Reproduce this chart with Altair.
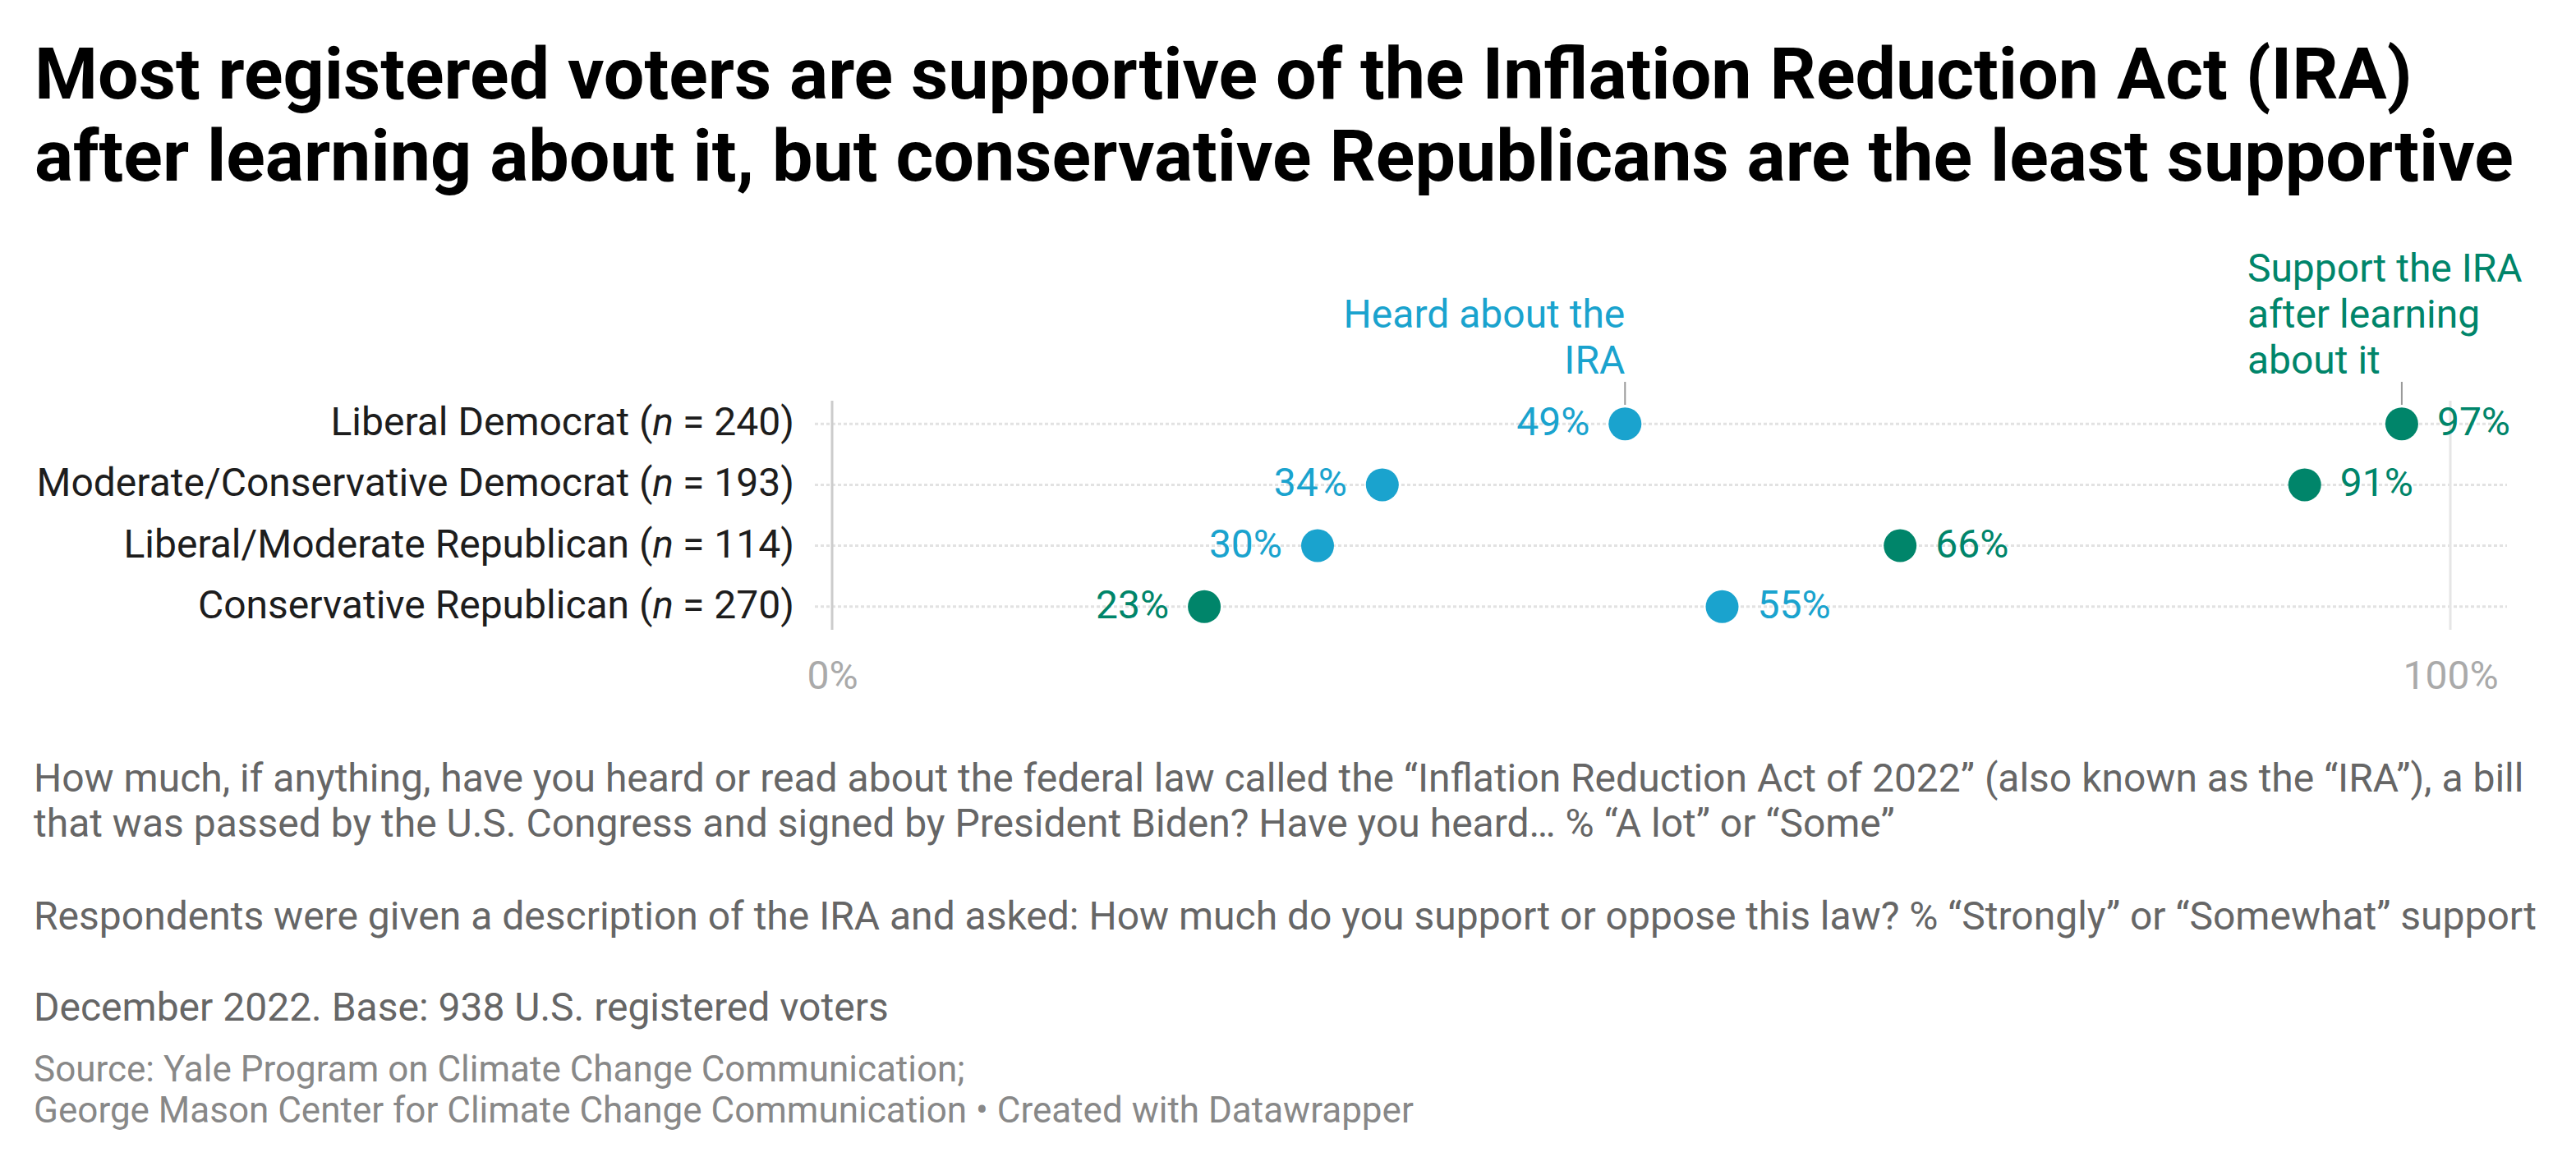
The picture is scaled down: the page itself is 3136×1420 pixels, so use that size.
import altair as alt
import pandas as pd

# ---------------- data ----------------
groups = [
    "Liberal Democrat",
    "Moderate/Conservative Democrat",
    "Liberal/Moderate Republican",
    "Conservative Republican",
]
sample_sizes = [240, 193, 114, 270]
heard = [49, 34, 30, 55]
support = [97, 91, 66, 23]
series_names = ["Heard about the IRA", "Support the IRA after learning about it"]
series_colors = ["#1aa3ce", "#00856a"]
x_ticks = [0, 100]

heard_label_lines = ["Heard about the", "IRA"]
support_label_lines = ["Support the IRA", "after learning", "about it"]

title_lines = [
    "Most registered voters are supportive of the Inflation Reduction Act (IRA)",
    "after learning about it, but conservative Republicans are the least supportive",
]
note1_lines = [
    "How much, if anything, have you heard or read about the federal law called the \u201cInflation Reduction Act of 2022\u201d (also known as the \u201cIRA\u201d), a bill",
    "that was passed by the U.S. Congress and signed by President Biden? Have you heard\u2026 % \u201cA lot\u201d or \u201cSome\u201d",
]
note2_lines = [
    "Respondents were given a description of the IRA and asked: How much do you support or oppose this law? % \u201cStrongly\u201d or \u201cSomewhat\u201d support"
]
note3_lines = ["December 2022. Base: 938 U.S. registered voters"]
source_lines = [
    "Source: Yale Program on Climate Change Communication;",
    "George Mason Center for Climate Change Communication \u2022 Created with Datawrapper",
]

# ---------------- tables ----------------
rows = []
for g, h, s in zip(groups, heard, support):
    for name, v, other in ((series_names[0], h, s), (series_names[1], s, h)):
        rows.append({
            "group": g, "series": name, "value": v, "label": f"{v}%",
            "side": "right" if v >= other else "left",
        })
df = pd.DataFrame(rows)

labels_df = pd.DataFrame({
    "group": groups,
    "prefix": [g + " (" for g in groups],
    "suffix": [f"= {n})" for n in sample_sizes],
})
ann_df = pd.DataFrame({"series": series_names, "value": [heard[0], support[0]]})
one = pd.DataFrame({"k": [0]})

# ---------------- layout constants ----------------
W, H = 1970, 279
FONT = "Roboto"
LABEL_FS = 48
DOT_FS = 48
NOTE_FS = 48
SRC_FS = 44
TICK_FS = 48

x_scale = alt.Scale(domain=[0, 100], nice=False, zero=False)
y_scale = alt.Scale(type="point", domain=groups, padding=0.38)
color_scale = alt.Scale(domain=series_names, range=series_colors)

Y = alt.Y("group:N", scale=y_scale, axis=None)

grid = alt.Chart(labels_df).mark_rule(
    strokeDash=[4, 3], strokeWidth=3, color="#e2e2e2"
).encode(y=Y, x=alt.value(-21), x2=alt.value(2039))

zero_line = alt.Chart(one).mark_rule(color="#cccccc", strokeWidth=3).encode(
    x=alt.XDatum(0, scale=x_scale)
)
hundred_line = alt.Chart(one).mark_rule(color="#e6e6e6", strokeWidth=3).encode(
    x=alt.XDatum(100, scale=x_scale)
)

connectors = alt.Chart(ann_df).mark_rule(color="#999999", strokeWidth=2).encode(
    x=alt.X("value:Q", scale=x_scale), y=alt.value(-23), y2=alt.value(5)
)

dots = alt.Chart(df).mark_circle(size=1600, opacity=1).encode(
    x=alt.X(
        "value:Q", scale=x_scale,
        axis=alt.Axis(values=x_ticks, labelExpr="datum.value + '%'", title=None,
                      domain=False, ticks=False, grid=False, labelPadding=33,
                      labelFlush=False, labelOverlap=False,
                      labelFontSize=TICK_FS, labelColor="#aaaaaa", labelFont=FONT),
    ),
    y=Y,
    color=alt.Color("series:N", scale=color_scale, legend=None),
)

lab_right = alt.Chart(df).transform_filter("datum.side == 'right'").mark_text(
    align="left", baseline="middle", dx=43, fontSize=DOT_FS, font=FONT
).encode(x=alt.X("value:Q", scale=x_scale), y=Y, text="label:N",
         color=alt.Color("series:N", scale=color_scale, legend=None))
lab_left = alt.Chart(df).transform_filter("datum.side == 'left'").mark_text(
    align="right", baseline="middle", dx=-43, fontSize=DOT_FS, font=FONT
).encode(x=alt.X("value:Q", scale=x_scale), y=Y, text="label:N",
         color=alt.Color("series:N", scale=color_scale, legend=None))

# row labels: prefix, italic n, suffix
GAP = 46
suffix_w = 2.817 * LABEL_FS
space_w = 0.2476 * LABEL_FS
n_w = 0.53 * LABEL_FS
row_suffix = alt.Chart(labels_df).mark_text(
    align="right", baseline="middle", fontSize=LABEL_FS, font=FONT, color="#1d1d1d"
).encode(y=Y, x=alt.value(-GAP), text="suffix:N")
row_n = alt.Chart(labels_df).mark_text(
    align="right", baseline="middle", fontSize=LABEL_FS, font=FONT, color="#1d1d1d",
    fontStyle="italic", text="n"
).encode(y=Y, x=alt.value(-GAP - suffix_w - space_w))
row_prefix = alt.Chart(labels_df).mark_text(
    align="right", baseline="middle", fontSize=LABEL_FS, font=FONT, color="#1d1d1d"
).encode(y=Y, x=alt.value(-GAP - suffix_w - space_w - n_w), text="prefix:N")

ann_heard = alt.Chart(ann_df).transform_filter(
    f"datum.series == '{series_names[0]}'"
).mark_text(
    text=heard_label_lines, align="right", baseline="alphabetic", lineHeight=56,
    fontSize=DOT_FS, font=FONT, color=series_colors[0]
).encode(x=alt.X("value:Q", scale=x_scale), y=alt.value(-89))

ann_support = alt.Chart(ann_df).transform_filter(
    f"datum.series == '{series_names[1]}'"
).mark_text(
    text=support_label_lines, align="left", baseline="alphabetic", lineHeight=56,
    dx=-188, fontSize=DOT_FS, font=FONT, color=series_colors[1]
).encode(x=alt.X("value:Q", scale=x_scale), y=alt.value(-145))


def block(lines, x, y, fs, color, lh, weight="normal"):
    return alt.Chart(one).mark_text(
        text=lines, align="left", baseline="alphabetic", fontSize=fs, font=FONT,
        color=color, lineHeight=lh, fontWeight=weight
    ).encode(x=alt.value(x), y=alt.value(y))


title = block(title_lines, -971, -368, 88, "#000000", 100, "bold")
note1 = block(note1_lines, -972, 476, NOTE_FS, "#666666", 55)
note2 = block(note2_lines, -972, 644, NOTE_FS, "#666666", 55)
note3 = block(note3_lines, -972, 755, NOTE_FS, "#666666", 55)
source = block(source_lines, -972, 829, SRC_FS, "#888888", 50)

chart = alt.layer(
    grid, zero_line, hundred_line, connectors, dots, lab_right, lab_left,
    row_suffix, row_n, row_prefix, ann_heard, ann_support,
    title, note1, note2, note3, source,
).properties(
    width=W, height=H,
    padding={"left": 1013, "top": 488, "right": 153, "bottom": 653},
    autosize=alt.AutoSizeParams(type="none"),
    background="white",
).configure_view(stroke=None)

chart.save("out.html", embed_options={"renderer": "svg", "actions": False})
